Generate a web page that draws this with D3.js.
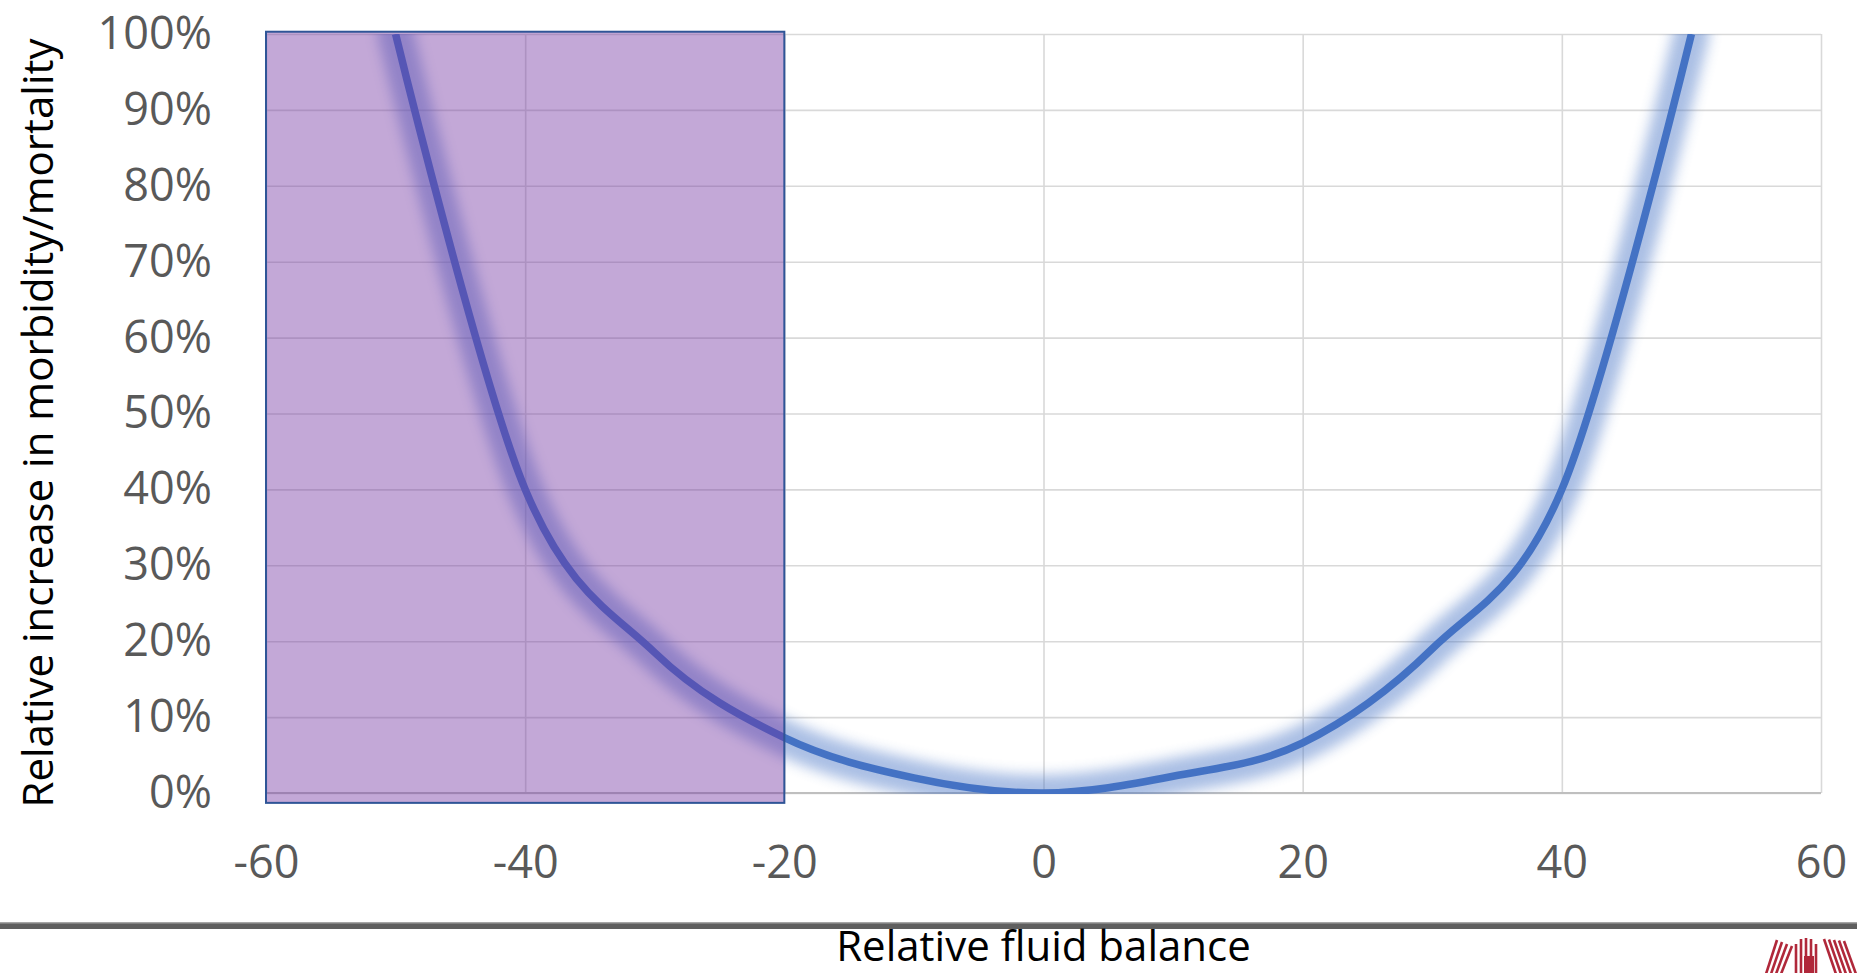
<!DOCTYPE html>
<html>
<head>
<meta charset="utf-8">
<script src="https://cdn.jsdelivr.net/npm/d3@7"></script>
<style>
  body { margin: 0; background: #fff; }
  svg { display: block; }
  .tick text { font-family: "Open Sans", sans-serif; fill: #595959; }
</style>
</head>
<body>
<svg id="chart"></svg>
<script>
// data
const xTicks = [-60, -40, -20, 0, 20, 40, 60];
const yTicks = [0, 0.1, 0.2, 0.3, 0.4, 0.5, 0.6, 0.7, 0.8, 0.9, 1.0];
const fluidBalance = [-50, -40, -30, -20, -10, 0, 10, 20, 30, 40, 50];
const riskIncrease = [1.00, 0.40, 0.185, 0.073, 0.02, 0, 0.022, 0.066, 0.19, 0.40, 1.00];
// shaded "too dry" zone
const zoneX = [-60, -20];
const zoneY = [-0.013, 1.003];

const xTitle = "Relative fluid balance";
const yTitle = "Relative increase in morbidity/mortality";

const W = 1857, H = 973;
const margin = {top: 34, right: 36, bottom: 180, left: 266};
const width = W - margin.left - margin.right;
const height = H - margin.top - margin.bottom;

const svg = d3.select("#chart").attr("width", W).attr("height", H);

const defs = svg.append("defs");
defs.append("filter")
    .attr("id", "glow")
    .attr("x", "-20%").attr("y", "-20%")
    .attr("width", "140%").attr("height", "140%")
    .append("feGaussianBlur")
    .attr("stdDeviation", 6.5);
defs.append("clipPath")
    .attr("id", "plotClip")
    .append("rect")
    .attr("x", -20).attr("y", 0)
    .attr("width", width + 40).attr("height", height + 1);

const g = svg.append("g")
    .attr("transform", "translate(" + margin.left + "," + margin.top + ")");

const x = d3.scaleLinear().domain([-60, 60]).range([0, width]);
const y = d3.scaleLinear().domain([0, 1]).range([height, 0]);

// gridlines
g.append("g")
    .attr("class", "grid-y")
    .call(d3.axisLeft(y).tickValues(yTicks).tickSize(-width).tickFormat(""))
    .call(s => s.select(".domain").remove())
    .selectAll("line")
    .attr("stroke", "#d9d9d9")
    .attr("stroke-width", 1.6);

g.append("g")
    .attr("class", "grid-x")
    .attr("transform", "translate(0," + height + ")")
    .call(d3.axisBottom(x).tickValues(xTicks).tickSize(-height).tickFormat(""))
    .call(s => s.select(".domain").remove())
    .selectAll("line")
    .attr("stroke", "#d9d9d9")
    .attr("stroke-width", 1.6);

// bottom axis line
g.append("line")
    .attr("x1", 0).attr("x2", width)
    .attr("y1", y(0)).attr("y2", y(0))
    .attr("stroke", "#bfbfbf")
    .attr("stroke-width", 2);

// axis labels
g.append("g")
    .attr("class", "y-axis")
    .call(d3.axisLeft(y).tickValues(yTicks).tickSize(0).tickPadding(54)
        .tickFormat(d => Math.round(d * 100) + "%"))
    .call(s => s.select(".domain").remove())
    .selectAll("text")
    .style("font-size", "45px");

g.append("g")
    .attr("class", "x-axis")
    .attr("transform", "translate(0," + height + ")")
    .call(d3.axisBottom(x).tickValues(xTicks).tickSize(0).tickPadding(53)
        .tickFormat(d => String(d)))
    .call(s => s.select(".domain").remove())
    .selectAll("text")
    .style("font-size", "45px");

// curve
const points = fluidBalance.map((v, i) => [v, riskIncrease[i]]);
const line = d3.line()
    .x(d => x(d[0]))
    .y(d => y(d[1]))
    .curve(d3.curveCardinal.tension(0));

const curveG = g.append("g").attr("clip-path", "url(#plotClip)");

curveG.append("path")
    .datum(points)
    .attr("d", line)
    .attr("fill", "none")
    .attr("stroke", "#4472c4")
    .attr("stroke-width", 36)
    .attr("stroke-linecap", "round")
    .attr("opacity", 0.45)
    .attr("filter", "url(#glow)");

curveG.append("path")
    .datum(points)
    .attr("d", line)
    .attr("fill", "none")
    .attr("stroke", "#4472c4")
    .attr("stroke-width", 7.5);

// shaded zone on top, semi transparent
g.append("rect")
    .attr("x", x(zoneX[0]))
    .attr("y", y(zoneY[1]))
    .attr("width", x(zoneX[1]) - x(zoneX[0]))
    .attr("height", y(zoneY[0]) - y(zoneY[1]))
    .attr("fill", "#7030a0")
    .attr("fill-opacity", 0.42)
    .attr("stroke", "#2f5597")
    .attr("stroke-width", 2);

// titles
svg.append("text")
    .attr("transform", "translate(53,423) rotate(-90)")
    .attr("text-anchor", "middle")
    .style("font-family", "'Open Sans', sans-serif")
    .style("font-size", "42px")
    .attr("fill", "#000")
    .text(yTitle);

// separator bar
svg.append("rect")
    .attr("x", 0).attr("y", 923)
    .attr("width", W).attr("height", 6)
    .attr("fill", "#5f5f5f");
svg.append("rect")
    .attr("x", 0).attr("y", 922)
    .attr("width", W).attr("height", 1.5)
    .attr("fill", "#a6a6a6");

svg.append("text")
    .attr("x", margin.left + x(0))
    .attr("y", 961)
    .attr("text-anchor", "middle")
    .style("font-family", "'Open Sans', sans-serif")
    .style("font-size", "42px")
    .attr("fill", "#000")
    .text(xTitle);

// little red logo, bottom right corner
const logo = svg.append("g")
    .attr("transform", "translate(1766,938)")
    .attr("stroke", "#b0283a")
    .attr("stroke-width", 2.6);
[0, 5, 10, 15].forEach(o => {
    logo.append("line")
        .attr("x1", o + 11).attr("y1", 2 + o * 0.4)
        .attr("x2", o).attr("y2", 36);
});
[30, 35, 40, 45, 50].forEach((o, i) => {
    logo.append("line")
        .attr("x1", o).attr("y1", [6, 1, 0, 1, 6][i])
        .attr("x2", o).attr("y2", 36);
});
[58, 63, 68, 73, 78].forEach((o, i) => {
    logo.append("line")
        .attr("x1", o).attr("y1", 1 + i * 0.5)
        .attr("x2", o + 12).attr("y2", 36);
});
logo.append("rect")
    .attr("x", 38).attr("y", 18)
    .attr("width", 10).attr("height", 18)
    .attr("fill", "#b0283a")
    .attr("stroke", "none");
</script>
</body>
</html>
